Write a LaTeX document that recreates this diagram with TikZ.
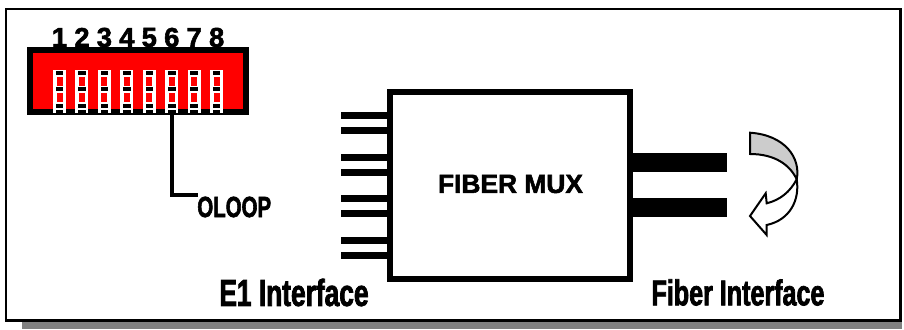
\documentclass[tikz,border=0pt]{standalone}
\usepackage{xcolor}
\usepackage{fontspec}
\usepackage{tikz}
\usetikzlibrary{positioning}
\setmainfont{Liberation Sans}[BoldFeatures={FakeBold=2}]
\newfontfamily\tallfont{Liberation Sans}[FakeStretch=0.7, BoldFeatures={FakeBold=2}]
\definecolor{dipred}{HTML}{FF0000}
\definecolor{shadowgray}{HTML}{808080}
\definecolor{loopgray}{HTML}{CCCCCC}

\begin{document}
\begin{tikzpicture}[
    x=0.2mm, y=-0.2mm,
    box/.style={draw=black, line width=#1, inner sep=0pt, outer sep=0pt},
    label/.style={inner sep=0pt, font=\fontsize{#1}{#1}\selectfont\bfseries},
    tallname/.style={inner sep=0pt, font=\tallfont\fontsize{#1}{#1}\selectfont\bfseries},
]
    \useasboundingbox (0, 0) rectangle (904, 329);
    % page frame with its shadow
    \node[fill=shadowgray, inner sep=0pt, minimum width=175.9mm, minimum height=45.8mm] (shadow) at (461.75, 214.5) {};
    \node[box=0.55mm, fill=white, minimum width=178.9mm, minimum height=62.3mm] (frame) at (453.25, 164.75) {};

    % dip switch
    \node[box=1.2mm, fill=dipred, minimum width=43.2mm, minimum height=12.4mm] (dip) at (138, 81) {};
    \foreach \i in {1,...,8} {
        \pgfmathsetmacro{\x}{59.5+22.45*(\i-1)}
        \node[fill=white, inner sep=0pt, minimum width=2.6mm, minimum height=8.6mm] (sw\i) at (\x, 91.5) {};
        \node[label=15.6] (num\i) at (\x, 37.5) {\i};
        \foreach \y in {73, 89, 106, 111.5}
            \fill[black] (\x-3.8, \y-1.7) rectangle (\x+3.8, \y+1.7);
        \foreach \y in {81.5, 97.5}
            \fill[dipred] (\x-3, \y-4.5) rectangle (\x+3, \y+4.5);
    }
    \node[tallname=16.6, anchor=west] (oloop) at (197, 207) {OLOOP};
    \coordinate (oloopend) at (198, 195);
    \draw[line width=0.9mm] (sw6.south) |- (oloopend);

    % mux
    \node[box=1.2mm, minimum width=48mm, minimum height=37.4mm] (mux) at (510, 185.5) {};
    \node[label=15] (muxname) at (510.5, 184) {FIBER MUX};
    \foreach \y [count=\n] in {115, 130, 157, 172, 198, 213, 240, 255} {
        \coordinate (stub\n) at (341, \y);
        \draw[line width=1.4mm] (stub\n) -- (stub\n -| mux.west);
    }
    \foreach \y [count=\n] in {162.5, 207.5} {
        \coordinate (fiber\n) at (727, \y);
        \draw[line width=3.8mm] (fiber\n -| mux.east) -- (fiber\n);
    }
    \node[tallname=21.4] (e1) at (294, 292.5) {E1 Interface};
    \node[tallname=20.4] (fiberif) at (738, 292.5) {Fiber Interface};

    % loop arrow
    \draw[line width=0.4mm, fill=white] (796.7, 179.3) .. controls (800, 200) and (790, 220) .. (766.7, 225)
        -- (766.7, 235) -- (750, 216) -- (765.7, 193.3) -- (766.7, 203.3)
        .. controls (780, 200) and (790, 192) .. cycle;
    \draw[line width=0.4mm, fill=loopgray] (750, 132.7) .. controls (785, 135) and (801, 158) .. (796.7, 179.3)
        .. controls (790, 165) and (775, 154) .. (750, 154) -- cycle;
\end{tikzpicture}
\end{document}
